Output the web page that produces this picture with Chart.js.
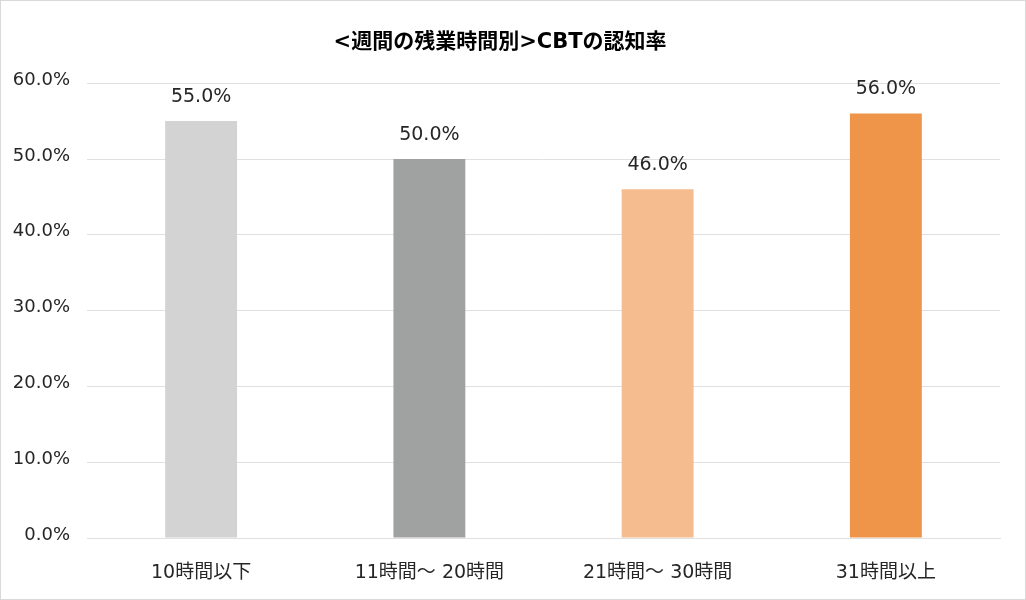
<!DOCTYPE html>
<html>
<head>
<meta charset="utf-8">
<script src="https://cdn.jsdelivr.net/npm/chart.js@4"></script>
<style>
  html, body { margin: 0; padding: 0; background: #fff; }
  #wrap { position: relative; width: 1026px; height: 600px; box-sizing: border-box; border: 1px solid #d9d9d9; }
  canvas { position: absolute; left: -1px; top: -1px; }
</style>
</head>
<body>
<div id="wrap"><canvas id="chart" width="1026" height="600"></canvas></div>
<script>
let categories = ["10時間以下", "11時間～ 20時間", "21時間～ 30時間", "31時間以上"];
let values = [55.0, 50.0, 46.0, 56.0];
let barColors = ["#d3d3d3", "#a0a2a1", "#f4bc8f", "#ee9549"];
let chartTitle = "<週間の残業時間別>CBTの認知率";

const fontFamily = "'DejaVu Sans', 'Noto Sans CJK JP', sans-serif";

// value labels above the bars
const barLabels = {
    id: 'barLabels',
    afterDatasetsDraw(chart) {
        const ctx = chart.ctx;
        const meta = chart.getDatasetMeta(0);
        ctx.save();
        ctx.font = "19px " + fontFamily;
        ctx.fillStyle = "#262626";
        ctx.textAlign = "center";
        ctx.textBaseline = "middle";
        meta.data.forEach(function (bar, i) {
            ctx.fillText(values[i].toFixed(1) + "%", bar.x, bar.y - 24);
        });
        ctx.restore();
    }
};

const ctx = document.getElementById('chart');

let chart = new Chart(ctx, {
    type: 'bar',
    data: {
        labels: categories,
        datasets: [{
            data: values,
            backgroundColor: barColors,
            borderWidth: 0,
            categoryPercentage: 1,
            barPercentage: 0.315
        }]
    },
    options: {
        responsive: false,
        animation: false,
        layout: {
            padding: { left: 0, right: 26, top: 0, bottom: 0 }
        },
        scales: {
            y: {
                min: 0,
                max: 60,
                ticks: {
                    stepSize: 10,
                    padding: 17,
                    labelOffset: -3,
                    color: "#262626",
                    font: { family: fontFamily, size: 18 },
                    callback: function (v) { return v.toFixed(1) + "%"; }
                },
                grid: { color: "#e0e0e0", lineWidth: 1, drawTicks: false },
                border: { display: false },
                afterFit: function (scale) { scale.width = 87; }
            },
            x: {
                ticks: {
                    padding: 24,
                    color: "#262626",
                    font: { family: fontFamily, size: 19 }
                },
                grid: { display: false, drawTicks: false },
                border: { color: "#e0e0e0" },
                afterFit: function (scale) { scale.height = 62; }
            }
        },
        plugins: {
            legend: { display: false },
            tooltip: { enabled: false },
            title: {
                display: true,
                text: chartTitle,
                color: "#000",
                font: { family: fontFamily, size: 21, weight: 'bold' },
                padding: { top: 30, bottom: 28 }
            }
        }
    },
    plugins: [barLabels]
});
</script>
</body>
</html>
